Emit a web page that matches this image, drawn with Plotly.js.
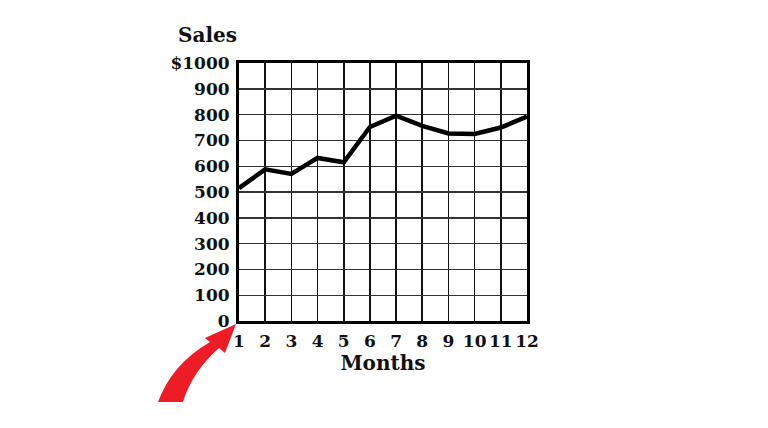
<!DOCTYPE html>
<html><head><meta charset="utf-8">
<script src="https://cdn.plot.ly/plotly-3.0.1.min.js"></script>
<style>html,body{margin:0;padding:0;background:#fff;}#c{width:768px;height:428px;}</style>
</head><body><div id="c"></div>
<script>
const months = [1,2,3,4,5,6,7,8,9,10,11,12];
const sales = [515,588,570,632,615,752,796,756,727,725,750,792];
const yTicks = [0,100,200,300,400,500,600,700,800,900,1000];
const yTickText = ['0','100','200','300','400','500','600','700','800','900','$1000'];

const L=239, R=527, T=63, B=321, W=768, H=428;
function px(x){return ((x-L)/(R-L)).toFixed(4);}
function py(y){return ((B-y)/(B-T)).toFixed(4);}
function P(x,y){return px(x)+','+py(y);}
const arrowPath = 'M'+P(236,324)+' L'+P(225,353)+' L'+P(219,348)+
  ' Q'+P(192,372)+' '+P(183,402)+' L'+P(158,402)+' Q'+P(172,364)+' '+P(210,342)+' L'+P(205,338)+' Z';

const font = {family:'"DejaVu Serif", "Liberation Serif", serif', size:17, color:'#111'};
Plotly.newPlot('c',[{
  x: months, y: sales, type:'scatter', mode:'lines',
  line:{color:'#000', width:4.5}, hoverinfo:'skip'
}],{
  width:W, height:H,
  margin:{l:L, r:W-R, t:T, b:H-B, pad:0},
  paper_bgcolor:'#fff', plot_bgcolor:'#fff',
  showlegend:false,
  font: font,
  xaxis:{range:[1,12], tickvals:months, ticktext:months.map(String), showgrid:true,
    gridcolor:'#111', gridwidth:1.6, showline:true, mirror:true, linecolor:'#000', linewidth:3,
    zeroline:false, ticks:'', ticklabelstandoff:3, tickfont:{family:font.family, size:17, color:'#111', weight:'bold'},
    title:{text:'Months', font:{family:font.family, size:20, color:'#111', weight:'bold'}, standoff:0}},
  yaxis:{range:[0,1000], tickvals:yTicks, ticktext:yTickText, showgrid:true,
    gridcolor:'#333', gridwidth:1.4, showline:true, mirror:true, linecolor:'#000', linewidth:3,
    zeroline:false, ticks:'', ticklabelstandoff:3, tickfont:{family:font.family, size:17, color:'#111', weight:'bold'}},
  annotations:[{text:'Sales', xref:'paper', yref:'paper', x:px(176), y:py(35), xanchor:'left', yanchor:'middle',
    showarrow:false, font:{family:font.family, size:20, color:'#111', weight:'bold'}}],
  shapes:[{type:'path', xref:'paper', yref:'paper', path:arrowPath, fillcolor:'#ee1c25', line:{width:0}}]
},{staticPlot:true});
</script></body></html>
